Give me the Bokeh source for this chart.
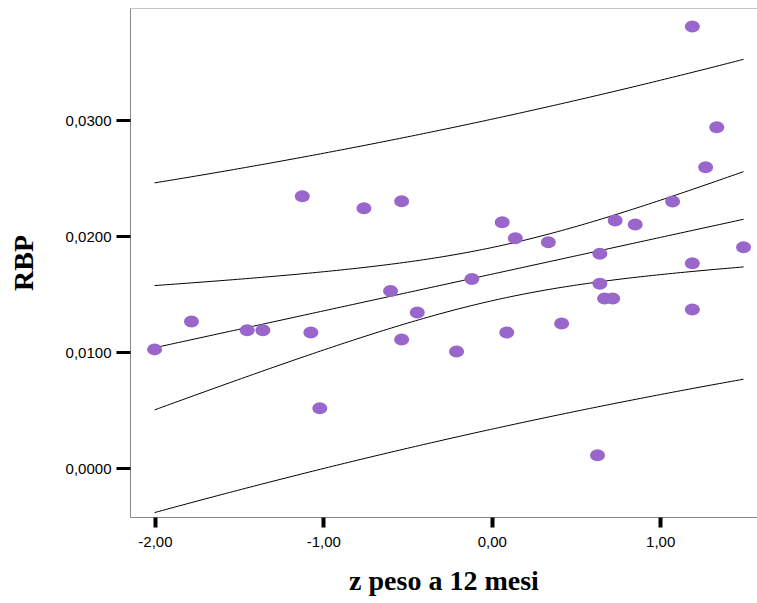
import numpy as np
from bokeh.plotting import figure
from bokeh.models import FixedTicker, Span
from bokeh.embed import file_html
from bokeh.resources import INLINE

# ---- data ----
z_peso = [-2.005, -1.786, -1.455, -1.362, -1.077, -1.024, -1.128, -0.762, -0.538,
          -0.604, -0.445, -0.538, -0.212, -0.121, 0.059, 0.137, 0.086, 0.333,
          0.412, 0.639, 0.639, 0.667, 0.715, 0.730, 0.849, 1.071, 1.188, 1.188,
          1.188, 1.267, 1.333, 1.492, 0.625]
rbp = [0.01029, 0.01269, 0.01194, 0.01194, 0.01174, 0.00522, 0.02348, 0.02245,
       0.02305, 0.01531, 0.01347, 0.01114, 0.01010, 0.01636, 0.02124, 0.01986,
       0.01174, 0.01952, 0.01252, 0.01852, 0.01594, 0.01467, 0.01467, 0.02139,
       0.02105, 0.02303, 0.03810, 0.01771, 0.01372, 0.02598, 0.02942, 0.01909,
       0.00117]
x_ticks = [-2, -1, 0, 1]
x_tick_labels = ["-2,00", "-1,00", "0,00", "1,00"]
y_ticks = [0.0, 0.01, 0.02, 0.03]
y_tick_labels = ["0,0000", "0,0100", "0,0200", "0,0300"]
x_title = "z peso a 12 mesi"
y_title = "RBP"

# ---- linear fit with 95% mean and individual intervals ----
x = np.array(z_peso)
y = np.array(rbp)
n = len(x)
b1, b0 = np.polyfit(x, y, 1)
s = np.sqrt(np.sum((y - (b0 + b1 * x)) ** 2) / (n - 2))
xm = x.mean()
sxx = np.sum((x - xm) ** 2)
t = 2.0395  # t(0.975, df=31)
xs = np.linspace(x.min(), x.max(), 150)
fit = b0 + b1 * xs
se_m = s * np.sqrt(1.0 / n + (xs - xm) ** 2 / sxx)
se_p = s * np.sqrt(1.0 + 1.0 / n + (xs - xm) ** 2 / sxx)

y_top = 0.03965
p = figure(width=757, height=603, output_backend="svg", toolbar_location=None,
           x_range=(-2.148, 1.575), y_range=(-0.00419, y_top),
           min_border_left=130, min_border_right=0, min_border_top=8,
           min_border_bottom=86)
p.outline_line_color = None
p.grid.visible = False
p.background_fill_color = "white"
p.border_fill_color = "white"

for yy in (fit - t * se_p, fit - t * se_m, fit, fit + t * se_m, fit + t * se_p):
    p.line(xs, yy, line_color="black", line_width=1)

p.ellipse(x, y, width=15, height=12, width_units="screen", height_units="screen",
          fill_color="#9966cc", line_color=None)

p.add_layout(Span(location=y_top, dimension="width", line_color="#888888", line_width=1))

for ax, ticks, labels in ((p.xaxis[0], x_ticks, x_tick_labels), (p.yaxis[0], y_ticks, y_tick_labels)):
    ax.ticker = FixedTicker(ticks=ticks)
    ax.major_label_overrides = {tk: lb for tk, lb in zip(ticks, labels)}
    ax.axis_line_color = "#888888"
    ax.major_tick_line_color = "black"
    ax.major_tick_in = 0
    ax.minor_tick_line_color = None
    ax.major_label_text_font = "Liberation Sans"
    ax.major_label_text_font_size = "15px"
    ax.major_label_text_color = "black"
    ax.axis_label_text_font = "Liberation Serif"
    ax.axis_label_text_font_style = "bold"
    ax.axis_label_text_color = "black"

p.xaxis.axis_label = x_title
p.yaxis.axis_label = y_title
p.xaxis.major_tick_out = 10
p.xaxis.major_tick_line_width = 4
p.xaxis.major_label_standoff = 9
p.xaxis.axis_label_text_font_size = "28px"
p.xaxis.axis_label_standoff = 15
p.yaxis.major_tick_out = 14
p.yaxis.major_tick_line_width = 3
p.yaxis.major_label_standoff = 5
p.yaxis.axis_label_text_font_size = "28px"
p.yaxis.axis_label_standoff = 24

open("out.html", "w").write(file_html(p, INLINE))
